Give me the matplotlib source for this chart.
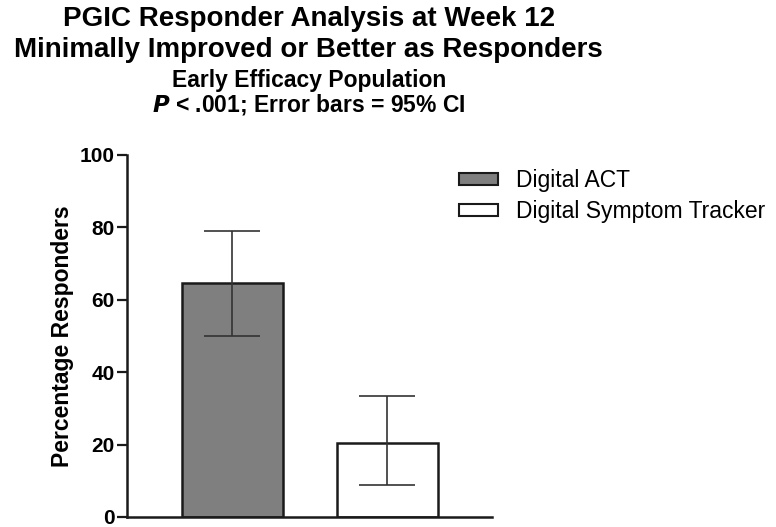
import numpy as np
import matplotlib
matplotlib.use("Agg")
import matplotlib.pyplot as plt
from matplotlib.patches import Patch

plt.rcParams['font.family'] = ['Liberation Sans', 'DejaVu Sans']

# data
groups = ["Digital ACT", "Digital Symptom Tracker"]
pct = [64.5, 20.5]
ci_low = [50.0, 8.8]
ci_high = [79.0, 33.5]
colors = ["#7f7f7f", "white"]

fig = plt.figure(figsize=(7.76, 5.27), dpi=100)
ax = fig.add_axes([0.1637, 0.019, 0.470, 0.687])

x = np.arange(len(groups))
err = [np.array(pct) - np.array(ci_low), np.array(ci_high) - np.array(pct)]
ax.bar(x, pct, width=0.65, color=colors, edgecolor="#1a1a1a", linewidth=1.8, zorder=2)
ax.errorbar(x, pct, yerr=err, fmt="none", ecolor="#333333", elinewidth=1.2,
            capsize=20, capthick=1.2, zorder=3)

ax.set_xlim(-0.68, 1.674)
ax.set_ylim(0, 100)
ax.set_yticks([0, 20, 40, 60, 80, 100])
ax.set_xticks([])
for s in ["top", "right"]:
    ax.spines[s].set_visible(False)
for s in ["left", "bottom"]:
    ax.spines[s].set_linewidth(1.8)
    ax.spines[s].set_color("#1a1a1a")
ax.tick_params(axis="y", length=7, width=1.6, labelsize=15, pad=2, color="#1a1a1a")
for t in ax.get_yticklabels():
    t.set_fontweight("bold")
ax.set_ylabel("Percentage Responders", fontsize=16.5, fontweight="bold", labelpad=4)

handles = [Patch(facecolor=c, edgecolor="#1a1a1a", linewidth=1.5) for c in colors]
fig.legend(handles, groups, loc="center left", bbox_to_anchor=(0.592, 0.628),
           frameon=False, fontsize=16.5, handlelength=1.7, handleheight=0.45,
           handletextpad=0.75, labelspacing=0.35, borderpad=0, borderaxespad=0)

fig.text(0.398, 0.964, "PGIC Responder Analysis at Week 12", ha="center", va="center",
         fontsize=20, fontweight="bold")
fig.text(0.398, 0.905, "Minimally Improved or Better as Responders", ha="center", va="center",
         fontsize=20, fontweight="bold")
fig.text(0.398, 0.848, "Early Efficacy Population", ha="center", va="center",
         fontsize=16.5, fontweight="bold")
fig.text(0.398, 0.801, r"$\bfit{P}$ < .001; Error bars = 95% CI", ha="center", va="center",
         fontsize=16.5, fontweight="bold")

fig.savefig("out.png", dpi=100)
